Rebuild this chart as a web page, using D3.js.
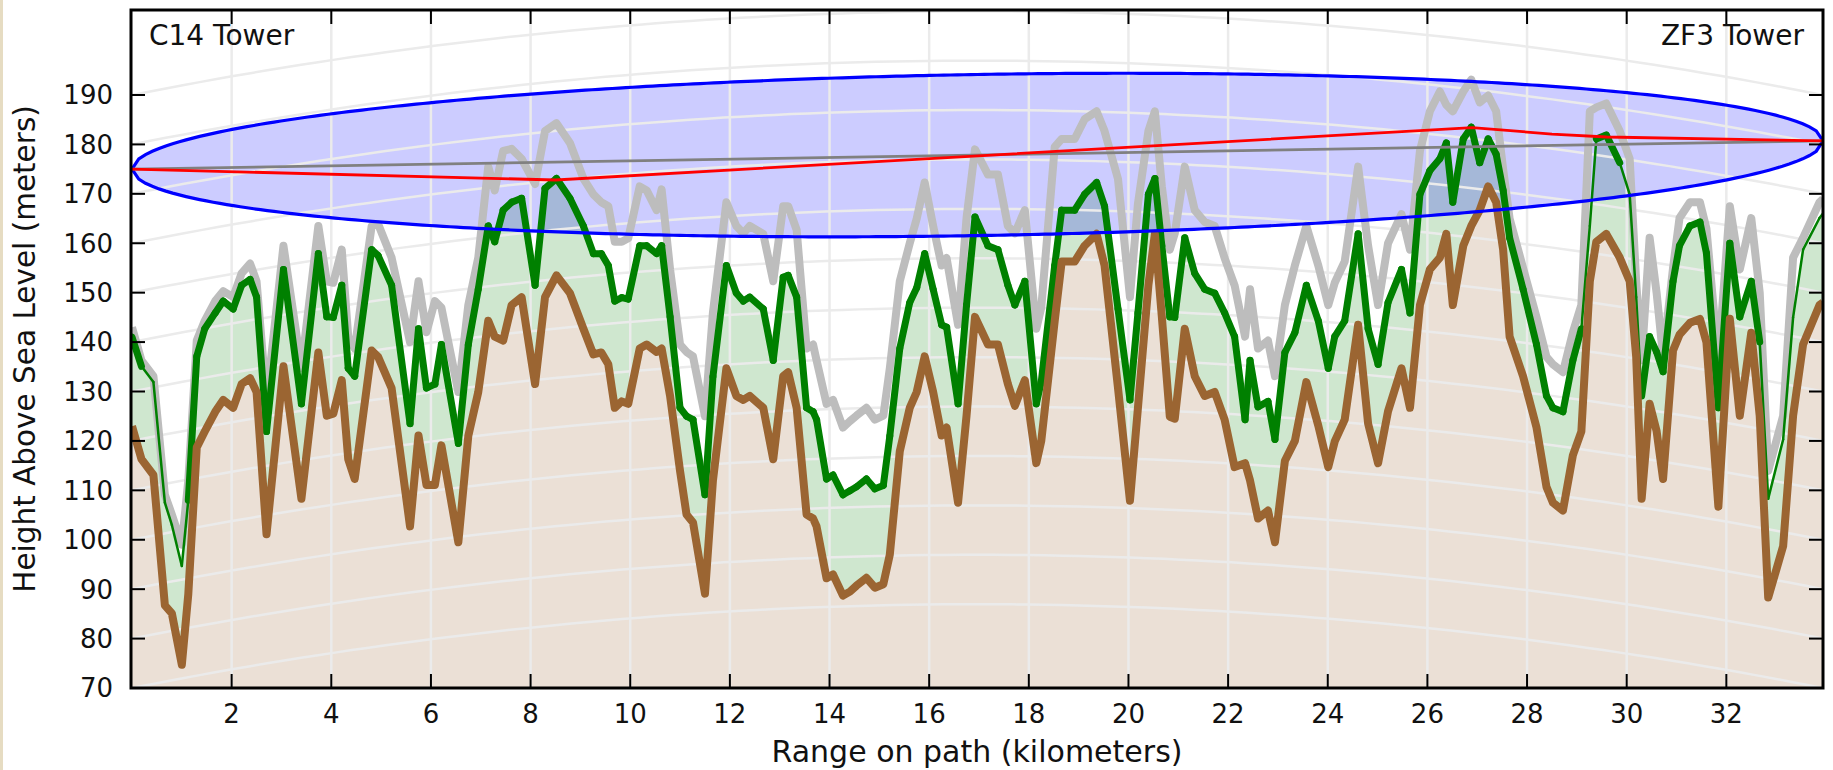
<!DOCTYPE html>
<html>
<head>
<meta charset="utf-8">
<script src="https://cdn.jsdelivr.net/npm/d3@7"></script>
<style>
  html, body { margin: 0; padding: 0; background: #fff; }
  svg { display: block; }
</style>
</head>
<body>
<svg id="chart" width="1833" height="770"></svg>
<script>
// Path profile (km along path, metres ASL)
const pathKm = [0.00,0.19,0.43,0.66,0.80,1.00,1.13,1.30,1.46,1.67,1.83,2.03,2.20,2.37,2.50,2.70,3.04,3.40,3.74,3.91,
  4.04,4.21,4.34,4.47,4.81,4.94,5.21,5.58,5.75,5.91,6.08,6.21,6.55,6.75,6.95,7.15,7.28,7.45,7.62,7.82,
  8.09,8.29,8.52,8.79,9.06,9.26,9.42,9.56,9.69,9.83,9.96,10.19,10.33,10.53,10.63,10.80,11.00,11.13,11.26,11.50,
  11.66,11.93,12.13,12.27,12.40,12.67,12.87,13.07,13.17,13.34,13.54,13.67,13.74,13.94,14.07,14.27,14.41,14.54,14.74,14.91,
  15.08,15.21,15.41,15.61,15.75,15.91,16.08,16.25,16.35,16.58,16.75,16.92,17.18,17.38,17.58,17.72,17.92,18.15,18.25,18.52,
  18.66,18.92,19.12,19.36,19.52,19.79,20.03,20.19,20.40,20.53,20.67,20.83,20.93,21.13,21.33,21.53,21.73,21.93,22.13,22.34,
  22.44,22.60,22.80,22.94,23.14,23.34,23.57,23.81,24.01,24.14,24.34,24.61,24.81,25.01,25.21,25.48,25.65,25.85,26.05,26.25,
  26.38,26.51,26.72,26.88,27.05,27.22,27.38,27.52,27.65,27.92,28.19,28.39,28.52,28.72,28.92,29.09,29.26,29.39,29.59,29.86,
  30.06,30.19,30.30,30.46,30.60,30.73,30.93,31.06,31.27,31.47,31.60,31.84,32.07,32.27,32.50,32.67,32.84,33.14,33.34,33.54,
  33.87,33.94];

// bare ground (brown)
const terrainM = [123,116.3,113.1,86.7,85.1,74.7,89,118.7,121.9,125.9,128.3,126.7,131.5,132.7,129.9,101.1,135.1,108.3,137.9,125.1,
  125.5,132.3,116.3,112.3,138.3,137,130.7,102.7,121.1,111.1,111.1,119.1,99.5,121,129.9,144.3,141.1,140.3,147.5,149.1,
  131.5,149.1,153.5,149.9,142.7,137.5,137.9,135.5,126.7,128,127.5,138.7,139.5,138,138.7,129.1,113.9,105.1,103.5,89.1,
  112,134.7,129.1,128.3,129.1,126.7,116.3,133.1,133.9,126.7,105.1,104.3,102.7,92.2,93,88.7,89.5,90.7,92.3,90.3,
  91,97,117.9,126.7,129.9,137.1,129.9,121.1,122.7,107.5,125.1,145.1,139.5,139.5,131.5,127.1,132.3,115.5,120,144.3,
  156.3,156.3,159.5,161.9,155.5,130.7,107.9,126.7,151.5,161.9,145.1,124.9,124.5,142.7,133.1,129.1,129.9,124.3,114.7,115.5,
  112,104.3,105.9,99.5,116,120,131.9,123.1,114.7,119.9,124.3,143.5,123.5,115.5,126,134.7,126.7,147.5,154.7,157.1,
  161.9,147.5,159.5,163.5,166.7,171.5,168.3,158.7,141.1,133.1,122.7,110.7,107.5,105.9,117.1,121.9,152.3,160.3,161.9,157.1,
  152.3,137.1,108.3,127.5,122,112.3,138.3,141.5,143.9,144.7,140,106.7,144.7,125.1,141.9,125,88.3,98.7,125.1,139.5,
  147.5,148];

// ground + trees (green)
const canopyM = [141,135.1,131.9,107.5,103,94.7,108,137.1,142.7,145.9,148.3,146.7,151.5,152.7,149.1,121.9,154.7,127.5,157.9,145.1,
  145,151.5,134.7,133.1,158.7,157.5,151.5,123.5,142.7,130.7,131.5,139.5,119.5,139.5,150.7,163.5,160.3,166.7,168.3,169.1,
  151.5,171.1,173.1,169.1,163.5,157.9,157.9,155.5,148.3,149,148.7,159.5,159.5,157.9,159.5,145.1,126.7,125,124.3,109.1,
  133,155.5,149.9,148.3,149.1,146.7,136.3,153.1,153.5,149.1,126.7,125.9,124.3,112.3,113.1,109.1,109.9,110.7,112.3,110.3,
  111,121,138.7,148,151,157.9,150.7,143.5,143,127.5,147.5,165.3,159.5,158.7,151.5,147.5,152.3,127.5,132,155.5,
  166.7,166.7,169.9,172.3,167.5,146.7,128.3,145.9,169.9,173.1,159.5,145.1,145,161.1,153.9,150.7,149.9,145.9,141.1,124.3,
  136.3,126.9,128,120.3,137.9,141.9,151.5,144.3,134.7,141.1,144.3,161.9,142.7,135.5,148,154.7,145.9,169.9,174.7,177.1,
  180.3,168.3,181.1,183.5,176.3,181.1,178,170.7,161.1,150.7,139.5,129.1,126.7,125.9,136.3,142.7,163.5,181.1,181.9,176.3,
  169.9,149.1,129.1,141.1,138,134,152.3,159.5,163.5,164.3,158,126.7,160,145.1,152.3,140,108.3,120.3,145,158.7,
  165.1,166];

// trees + clutter (grey)
const clutterM = [143,136.3,133.1,109.1,105.1,99,112,140.3,144.3,148.3,150.3,149.1,153.9,155.9,152.3,128.3,159.5,134.7,163.5,152.3,
  152,158.7,141.1,138.7,163.5,163.9,157.1,140,152.3,142,148.3,147,129.9,147.5,157.1,175.5,170.7,178.7,179.1,177.1,
  172,182.7,184.3,180.3,173.1,169.9,168.3,167.5,160.3,160.3,161,171.5,170.7,166.7,170.9,154.7,139.5,138,137.1,125,
  146,168.3,163.5,162,163.5,161.9,152.3,167.5,167.5,162.7,138.7,139.5,136.3,127.5,128.3,122.7,124,125.1,126.7,124.3,
  125.1,134.7,152.3,160,165,172.3,163.5,155.5,157,143.5,165.1,179,173.9,173.9,163.5,162,166.7,142.7,147,179.5,
  181.1,181.1,185.1,186.7,182.7,173,149.1,168,182.7,186.7,171.5,158.7,162,175.5,166.7,164.3,163.5,157,151.5,141.1,
  150.7,138.7,140.3,133.1,147.5,155.5,163.5,155.5,147.5,152,156.3,175.5,159.5,147.5,160,165.9,158.7,178.7,186.7,190.7,
  188,186.7,190.7,193.1,188.5,189.9,186.7,175,165,155,145,137,135.5,133.9,142,147.5,186.7,187.5,188.3,182.7,
  177.1,152.3,136.3,161.1,150,137,155,165.1,168.3,168.3,163,136.3,167.5,154.7,165.1,150,113.9,125.1,157.1,161.1,
  168.3,169];

// stretches where the canopy line is drawn thin (km)
const canopyThin = [[0.1, 1.15], [29.1, 29.35], [29.95, 30.25], [32.75, 33.94]];

// diffraction ray (red)
const rayKm = [0, 8.5, 26.9, 28.5, 29.6, 33.94];
const rayM  = [175, 172.8, 183.4, 182.1, 181.5, 180.7];

// line of sight and first Fresnel zone
const pathLen = 33.94;
const losStart = 175, losEnd = 180.7;
const fresnelMax = 16.3;
const earthR = 6371, kFactor = 4 / 3;

const xTicks = [2, 4, 6, 8, 10, 12, 14, 16, 18, 20, 22, 24, 26, 28, 30, 32];
const yTicks = [70, 80, 90, 100, 110, 120, 130, 140, 150, 160, 170, 180, 190];
const towerNames = ["C14 Tower", "ZF3 Tower"];

(function () {
  "use strict";
  const FONT = "'DejaVu Sans', sans-serif";
  const L = 131, R = 1823, T = 10, B = 688;

  const svg = d3.select("#chart");
  svg.append("rect").attr("x", 0).attr("y", 0).attr("width", 3).attr("height", 770).attr("fill", "#e6dcc2");

  const x = d3.scaleLinear().domain([0, pathLen]).range([132, R]);
  const y = d3.scaleLinear().domain([70, 207.2]).range([B, T]);

  svg.append("defs").append("clipPath").attr("id", "plot-clip")
    .append("rect").attr("x", L).attr("y", T).attr("width", R - L).attr("height", B - T);
  const g = svg.append("g").attr("clip-path", "url(#plot-clip)");

  const idx = d3.range(pathKm.length);
  const los = km => losStart + (losEnd - losStart) * km / pathLen;
  const bulge = km => km * (pathLen - km) / (2 * kFactor * earthR) * 1000;

  // green band between ground and canopy
  g.append("path")
    .attr("d", d3.area().x(i => x(pathKm[i])).y0(i => y(terrainM[i])).y1(i => y(canopyM[i]))(idx))
    .attr("fill", "rgba(0,128,0,0.19)");

  // Fresnel ellipse fill
  const ts = d3.range(0, 1.0001, 0.004);
  const upper = ts.map(t => [x(t * pathLen), y(los(t * pathLen) + 2 * fresnelMax * Math.sqrt(t * (1 - t)))]);
  const lower = ts.slice().reverse().map(t => [x(t * pathLen), y(los(t * pathLen) - 2 * fresnelMax * Math.sqrt(t * (1 - t)))]);
  const ellipseD = d3.line()(upper.concat(lower)) + "Z";
  g.append("path").attr("d", ellipseD).attr("fill", "rgba(0,0,255,0.2)");

  // ground fill
  g.append("path")
    .attr("d", d3.area().x(i => x(pathKm[i])).y0(B + 5).y1(i => y(terrainM[i]))(idx))
    .attr("fill", "#ebe0d6");

  // grid: vertical + earth-curvature lines
  xTicks.forEach(v => {
    g.append("line").attr("x1", x(v)).attr("x2", x(v)).attr("y1", T).attr("y2", B)
      .attr("stroke", "#ebebeb").attr("stroke-width", 2.5);
  });
  const samples = d3.range(0, 101).map(i => i * pathLen / 100);
  const curve = d3.line().x(k => x(k[0])).y(k => y(k[1]));
  yTicks.forEach(h => {
    g.append("path").attr("d", curve(samples.map(k => [k, h + bulge(k)])))
      .attr("fill", "none").attr("stroke", "#ebebeb").attr("stroke-width", 2.5);
  });

  const lineOf = arr => d3.line().x(i => x(pathKm[i])).y(i => y(arr[i]))(idx);
  g.append("path").attr("d", lineOf(clutterM)).attr("fill", "none")
    .attr("stroke", "#bdbdbd").attr("stroke-width", 8).attr("stroke-linejoin", "round");

  // canopy line, segment by segment so thin stretches can be drawn thinner
  const isThin = km => canopyThin.some(r => km >= r[0] && km <= r[1]);
  d3.range(pathKm.length - 1).forEach(i => {
    const thin = isThin((pathKm[i] + pathKm[i + 1]) / 2);
    g.append("line")
      .attr("x1", x(pathKm[i])).attr("y1", y(canopyM[i]))
      .attr("x2", x(pathKm[i + 1])).attr("y2", y(canopyM[i + 1]))
      .attr("stroke", "#008000").attr("stroke-width", thin ? 2.5 : 7)
      .attr("stroke-linecap", "round");
  });

  g.append("path").attr("d", lineOf(terrainM)).attr("fill", "none")
    .attr("stroke", "#9b6532").attr("stroke-width", 8).attr("stroke-linejoin", "round");

  g.append("path").attr("d", ellipseD).attr("fill", "none").attr("stroke", "#0000ff").attr("stroke-width", 3.2);
  g.append("line").attr("x1", x(0)).attr("x2", x(pathLen)).attr("y1", y(losStart)).attr("y2", y(losEnd))
    .attr("stroke", "#808080").attr("stroke-width", 2.8);
  g.append("path").attr("d", d3.line().x(k => x(k)).y((k, i) => y(rayM[i]))(rayKm))
    .attr("fill", "none").attr("stroke", "#ff0000").attr("stroke-width", 2.8);

  // frame + inward ticks on all sides
  const ax = svg.append("g");
  xTicks.forEach(v => {
    ax.append("line").attr("x1", x(v)).attr("x2", x(v)).attr("y1", B).attr("y2", B - 14).attr("stroke", "#000").attr("stroke-width", 2);
    ax.append("line").attr("x1", x(v)).attr("x2", x(v)).attr("y1", T).attr("y2", T + 14).attr("stroke", "#000").attr("stroke-width", 2);
    ax.append("text").attr("x", x(v)).attr("y", 723).attr("text-anchor", "middle")
      .attr("font-family", FONT).attr("font-size", "26px").attr("fill", "#111").text(v);
  });
  yTicks.forEach(v => {
    ax.append("line").attr("x1", L).attr("x2", L + 14).attr("y1", y(v)).attr("y2", y(v)).attr("stroke", "#000").attr("stroke-width", 2);
    ax.append("line").attr("x1", R).attr("x2", R - 14).attr("y1", y(v)).attr("y2", y(v)).attr("stroke", "#000").attr("stroke-width", 2);
    ax.append("text").attr("x", 113).attr("y", y(v)).attr("dy", "0.36em").attr("text-anchor", "end")
      .attr("font-family", FONT).attr("font-size", "26px").attr("fill", "#111").text(v);
  });
  ax.append("rect").attr("x", L).attr("y", T).attr("width", R - L).attr("height", B - T)
    .attr("fill", "none").attr("stroke", "#000").attr("stroke-width", 3);

  ax.append("text").attr("x", 149).attr("y", 45).attr("font-family", FONT).attr("font-size", "28px")
    .attr("fill", "#111").text(towerNames[0]);
  ax.append("text").attr("x", 1804).attr("y", 45).attr("text-anchor", "end").attr("font-family", FONT)
    .attr("font-size", "28px").attr("fill", "#111").text(towerNames[1]);

  ax.append("text").attr("x", (L + R) / 2).attr("y", 762).attr("text-anchor", "middle")
    .attr("font-family", FONT).attr("font-size", "30px").attr("fill", "#111").text("Range on path (kilometers)");
  ax.append("text").attr("transform", `translate(35,${(T + B) / 2}) rotate(-90)`).attr("text-anchor", "middle")
    .attr("font-family", FONT).attr("font-size", "29.5px").attr("fill", "#111").text("Height Above Sea Level (meters)");
})();
</script>
</body>
</html>
